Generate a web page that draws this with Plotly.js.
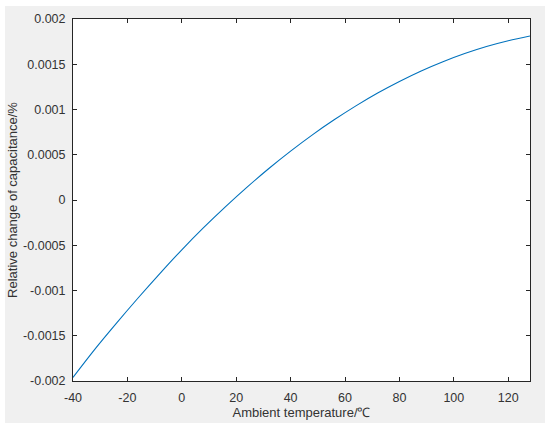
<!DOCTYPE html>
<html>
<head>
<meta charset="utf-8">
<script src="https://cdn.plot.ly/plotly-3.0.1.min.js"></script>
<style>
  html, body { margin: 0; padding: 0; background: #ffffff; }
  #plot { position: absolute; left: 5px; top: 6px; width: 540px; height: 417px; }
</style>
</head>
<body>
<div id="plot"></div>
<script>
// temperature (deg C) and relative change of capacitance (%)
var temperature = [-40, -32, -24, -16, -8, 0, 8, 16, 24, 32, 40, 48, 56, 64, 72, 80, 88, 96, 104, 112, 120, 128];
var capChange = [-0.00196, -0.00165, -0.00136, -0.00108, -0.00081, -0.00055, -0.000306, -0.000076,
                 0.000142, 0.000348, 0.00054, 0.00072, 0.000886, 0.00104, 0.001182, 0.00131,
                 0.001426, 0.001528, 0.001618, 0.001696, 0.00176, 0.001812];

var xTickVals = [-40, -20, 0, 20, 40, 60, 80, 100, 120];
var xTickText = ['-40', '-20', '0', '20', '40', '60', '80', '100', '120'];
var yTickVals = [-0.002, -0.0015, -0.001, -0.0005, 0, 0.0005, 0.001, 0.0015, 0.002];
var yTickText = ['-0.002', '-0.0015', '-0.001', '-0.0005', '0', '0.0005', '0.001', '0.0015', '0.002'];

var axisColor = '#262626';

var trace = {
  x: temperature,
  y: capChange,
  type: 'scatter',
  mode: 'lines',
  line: { color: '#0072BD', width: 1.1, shape: 'spline' },
  hoverinfo: 'skip'
};

var layout = {
  width: 540,
  height: 417,
  margin: { l: 68, r: 15, t: 13, b: 42 },
  paper_bgcolor: '#f0f0f0',
  plot_bgcolor: '#ffffff',
  showlegend: false,
  font: { family: 'Liberation Sans, Arial, sans-serif', size: 12.5, color: '#333333' },
  xaxis: {
    range: [-40, 128],
    tickvals: xTickVals,
    ticktext: xTickText,
    ticks: 'inside',
    ticklen: 4,
    tickcolor: axisColor,
    ticklabelstandoff: 5,
    showline: true,
    linecolor: axisColor,
    linewidth: 1,
    mirror: 'ticks',
    showgrid: false,
    zeroline: false,
    title: { text: 'Ambient temperature/℃', font: { size: 13 }, standoff: 3 }
  },
  yaxis: {
    range: [-0.002, 0.002],
    tickvals: yTickVals,
    ticktext: yTickText,
    ticks: 'inside',
    ticklen: 4,
    tickcolor: axisColor,
    ticklabelstandoff: 4,
    showline: true,
    linecolor: axisColor,
    linewidth: 1,
    mirror: 'ticks',
    showgrid: false,
    zeroline: false,
    title: { text: 'Relative change of capacitance/%', font: { size: 13 }, standoff: 6 }
  }
};

Plotly.newPlot('plot', [trace], layout, { staticPlot: true });
</script>
</body>
</html>
